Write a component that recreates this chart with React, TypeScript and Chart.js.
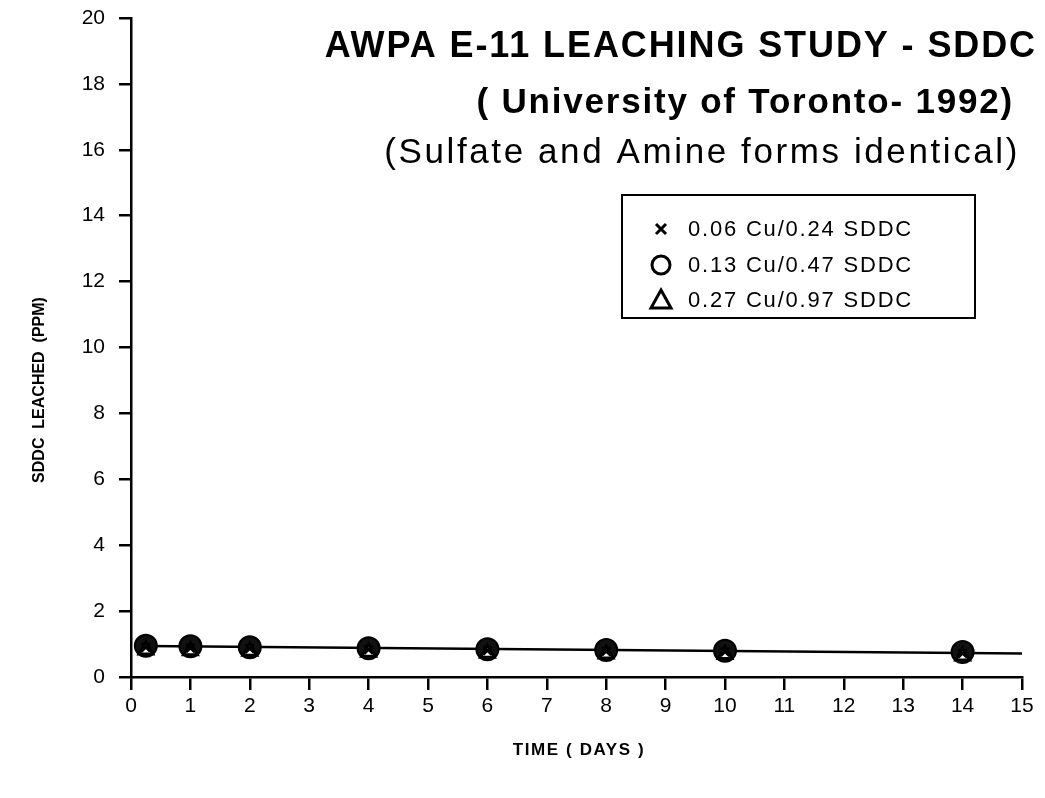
import React, { useEffect, useRef } from "react";
import { Chart, registerables } from "chart.js";

Chart.register(...registerables);

const days = [0.25, 1, 2, 4, 6, 8, 10, 14];
const series1Label = "0.06 Cu/0.24 SDDC";
const series2Label = "0.13 Cu/0.47 SDDC";
const series3Label = "0.27 Cu/0.97 SDDC";
const series1 = [0.9, 0.88, 0.86, 0.83, 0.8, 0.78, 0.76, 0.72];
const series2 = [0.95, 0.93, 0.9, 0.87, 0.84, 0.82, 0.8, 0.76];
const series3 = [0.82, 0.8, 0.78, 0.75, 0.72, 0.7, 0.68, 0.64];
const trendX = [0.25, 15];
const trendY = [0.94, 0.71];
const xTicks = [0, 1, 2, 3, 4, 5, 6, 7, 8, 9, 10, 11, 12, 13, 14, 15];
const yTicks = [0, 2, 4, 6, 8, 10, 12, 14, 16, 18, 20];

const FONT = "'Liberation Sans', Arial, Helvetica, sans-serif";

const textPlugin = {
  id: "texts",
  afterDraw(chart: any) {
    const ctx = chart.ctx;
    ctx.save();
    ctx.fillStyle = "#000";
    ctx.textBaseline = "alphabetic";
    // titles
    ctx.font = `bold 36px ${FONT}`;
    (ctx as any).letterSpacing = "1.9px";
    ctx.textAlign = "right";
    ctx.fillText("AWPA E-11 LEACHING STUDY - SDDC", 1037, 57);
    ctx.font = `bold 35px ${FONT}`;
    (ctx as any).letterSpacing = "1.8px";
    ctx.fillText("( University of Toronto- 1992)", 1014, 113);
    ctx.font = `35px ${FONT}`;
    (ctx as any).letterSpacing = "2.6px";
    ctx.fillText("(Sulfate and Amine forms identical)", 1020, 163);

    // axis titles
    ctx.font = `bold 17px ${FONT}`;
    (ctx as any).letterSpacing = "1.6px";
    ctx.textAlign = "center";
    ctx.textBaseline = "middle";
    ctx.fillText("TIME ( DAYS )", 579, 750);
    ctx.save();
    ctx.translate(40, 390);
    ctx.rotate(-Math.PI / 2);
    (ctx as any).letterSpacing = "0px";
    ctx.font = `bold 16px ${FONT}`;
    ctx.fillText("SDDC  LEACHED  (PPM)", 0, 0);
    ctx.restore();

    // legend
    (ctx as any).letterSpacing = "0px";
    const bx = 622, by = 195, bw = 353, bh = 123;
    ctx.lineWidth = 2;
    ctx.strokeStyle = "#000";
    ctx.strokeRect(bx, by, bw, bh);
    const labels = [series1Label, series2Label, series3Label];
    const rows = [229, 265, 300];
    ctx.font = `22px ${FONT}`;
    (ctx as any).letterSpacing = "1.8px";
    ctx.textAlign = "left";
    ctx.textBaseline = "middle";
    rows.forEach((ry, i) => {
      const sx = 661;
      ctx.beginPath();
      if (i === 0) {
        ctx.lineWidth = 3;
        ctx.moveTo(sx - 5, ry - 5);
        ctx.lineTo(sx + 5, ry + 5);
        ctx.moveTo(sx + 5, ry - 5);
        ctx.lineTo(sx - 5, ry + 5);
        ctx.stroke();
      } else if (i === 1) {
        ctx.lineWidth = 3;
        ctx.arc(sx, ry, 9, 0, Math.PI * 2);
        ctx.stroke();
      } else {
        ctx.lineWidth = 3;
        ctx.moveTo(sx, ry - 10);
        ctx.lineTo(sx + 10, ry + 8);
        ctx.lineTo(sx - 10, ry + 8);
        ctx.closePath();
        ctx.stroke();
      }
      ctx.fillText(labels[i], 688, ry + 1);
    });
    ctx.restore();
  },
};

export default function App() {
  const ref = useRef<HTMLCanvasElement | null>(null);
  useEffect(() => {
    if (!ref.current) return;
    const pts = (ys: number[]) => days.map((d, i) => ({ x: d, y: ys[i] }));
    const chart = new Chart(ref.current, {
      type: "scatter",
      data: {
        datasets: [
          {
            label: "trend",
            data: trendX.map((x, i) => ({ x, y: trendY[i] })),
            showLine: true,
            borderColor: "#000",
            borderWidth: 2.5,
            pointRadius: 0,
            order: 4,
          },
          {
            label: series2Label,
            data: pts(series2),
            pointStyle: "circle",
            pointRadius: 11,
            backgroundColor: "#111",
            borderColor: "#000",
            borderWidth: 2,
            order: 3,
          },
          {
            label: series3Label,
            data: pts(series3),
            pointStyle: "triangle",
            pointRadius: 8,
            backgroundColor: "#fff",
            borderColor: "#000",
            borderWidth: 3,
            order: 2,
          },
          {
            label: series1Label,
            data: pts(series1),
            pointStyle: "crossRot",
            pointRadius: 6,
            backgroundColor: "#000",
            borderColor: "#000",
            borderWidth: 2.5,
            order: 1,
          },
        ] as any,
      },
      options: {
        animation: false,
        responsive: false,
        maintainAspectRatio: false,
        layout: { padding: { left: 0, right: 23, top: 18, bottom: 0 } },
        plugins: { legend: { display: false }, tooltip: { enabled: false } },
        scales: {
          x: {
            type: "linear",
            min: 0,
            max: 15,
            afterFit: (s: any) => {
              s.height = 121;
              s.paddingLeft = 0;
              s.paddingRight = 0;
            },
            afterBuildTicks: (s: any) => {
              s.ticks = xTicks.map((v) => ({ value: v }));
            },
            border: { color: "#000", width: 2.5 },
            grid: {
              display: true,
              drawOnChartArea: false,
              drawTicks: true,
              tickLength: 13,
              color: "#000",
              lineWidth: 2.5,
            },
            ticks: {
              color: "#000",
              padding: 4,
              font: { family: FONT, size: 21 },
            },
          },
          y: {
            type: "linear",
            min: 0,
            max: 20,
            afterFit: (s: any) => {
              s.width = 131;
              s.paddingTop = 0;
              s.paddingBottom = 0;
            },
            afterBuildTicks: (s: any) => {
              s.ticks = yTicks.map((v) => ({ value: v }));
            },
            border: { color: "#000", width: 2.5 },
            grid: {
              display: true,
              drawOnChartArea: false,
              drawTicks: true,
              tickLength: 12,
              color: "#000",
              lineWidth: 2.5,
            },
            ticks: {
              color: "#000",
              padding: 14,
              font: { family: FONT, size: 21 },
            },
          },
        },
      } as any,
      plugins: [textPlugin],
    });
    return () => chart.destroy();
  }, []);
  return (
    <div
      style={{
        position: "absolute",
        left: 0,
        top: 0,
        width: 1045,
        height: 798,
        background: "#fff",
      }}
    >
      <canvas ref={ref} width={1045} height={798} style={{ width: 1045, height: 798 }} />
    </div>
  );
}
